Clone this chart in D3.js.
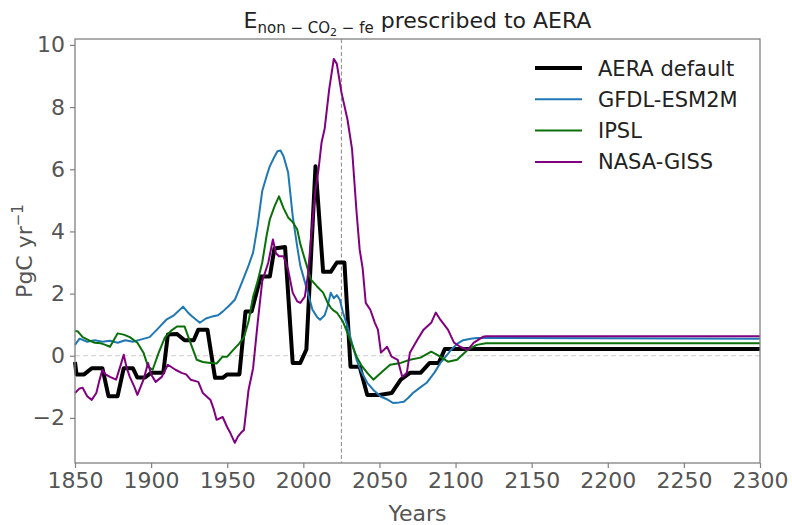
<!DOCTYPE html>
<html>
<head>
<meta charset="utf-8">
<script src="https://cdnjs.cloudflare.com/ajax/libs/d3/7.8.5/d3.min.js"></script>
<style>
  body { margin: 0; background: #fff; }
  text { font-family: "DejaVu Sans", sans-serif; }
</style>
</head>
<body>
<div id="chart"></div>
<script>
var margin = {top: 39, right: 32, bottom: 62, left: 75},
    width = 792 - margin.left - margin.right,
    height = 525 - margin.top - margin.bottom;

// values: [year, PgC/yr]
var aera = [[1850,-0.2],[1851,-0.6],[1856,-0.6],[1861,-0.4],[1868,-0.4],[1872,-1.3],[1878,-1.3],[1882,-0.4],[1888,-0.4],[1891,-0.7],[1896,-0.7],[1900,-0.55],[1908,-0.55],[1911,0.68],[1917,0.7],[1922,0.5],[1928,0.5],[1931,0.84],[1937,0.84],[1942,-0.71],[1947,-0.71],[1950,-0.6],[1958,-0.6],[1962,1.42],[1966,1.42],[1972,2.55],[1978,2.55],[1981,3.45],[1988,3.5],[1993,-0.23],[1998,-0.23],[2002,0.2],[2008,6.1],[2013,2.7],[2018,2.7],[2022,3.0],[2027,3.0],[2031,-0.35],[2037,-0.35],[2042,-1.26],[2050,-1.26],[2058,-1.2],[2064,-0.77],[2070,-0.55],[2077,-0.55],[2083,-0.23],[2089,-0.23],[2093,0.22],[2300,0.22]];

var gfdl = [[1850,0.35],[1853,0.55],[1858,0.45],[1863,0.5],[1868,0.45],[1873,0.48],[1878,0.42],[1883,0.5],[1888,0.45],[1893,0.52],[1899,0.6],[1904,0.85],[1910,1.16],[1915,1.3],[1921,1.58],[1924,1.4],[1927,1.26],[1932,1.06],[1936,1.2],[1940,1.26],[1944,1.3],[1947,1.42],[1951,1.6],[1955,1.8],[1960,2.4],[1964,2.9],[1967,3.32],[1970,4.2],[1973,5.3],[1976,5.8],[1978,6.1],[1981,6.4],[1983,6.58],[1985,6.6],[1987,6.42],[1990,5.9],[1993,4.5],[1996,3.5],[1998,2.9],[2002,2.2],[2006,1.48],[2009,1.25],[2011,1.16],[2014,1.3],[2016,1.6],[2018,2.03],[2020,1.85],[2022,1.95],[2024,1.8],[2026,1.4],[2029,0.94],[2032,0.4],[2035,-0.13],[2038,-0.5],[2042,-0.87],[2046,-1.1],[2051,-1.32],[2055,-1.4],[2059,-1.52],[2063,-1.5],[2066,-1.48],[2069,-1.35],[2072,-1.2],[2076,-1.05],[2081,-0.87],[2086,-0.55],[2090,-0.23],[2094,0.0],[2097,0.19],[2101,0.38],[2105,0.5],[2110,0.55],[2114,0.57],[2300,0.55]];

var ipsl = [[1850,0.8],[1852,0.78],[1855,0.6],[1859,0.5],[1863,0.42],[1867,0.4],[1870,0.35],[1873,0.29],[1876,0.55],[1878,0.72],[1882,0.68],[1886,0.6],[1891,0.42],[1895,0.1],[1898,-0.35],[1901,-0.45],[1905,0.1],[1909,0.58],[1913,0.8],[1917,0.94],[1922,0.94],[1926,0.4],[1930,-0.13],[1934,-0.2],[1939,-0.23],[1943,-0.25],[1947,-0.03],[1950,-0.03],[1954,0.19],[1958,0.4],[1961,0.6],[1964,1.1],[1967,1.9],[1970,2.4],[1973,3.0],[1976,3.9],[1978,4.39],[1981,4.8],[1984,5.13],[1987,4.75],[1990,4.45],[1993,4.3],[1996,4.06],[1998,3.6],[2001,3.1],[2005,2.45],[2009,2.23],[2013,2.03],[2016,1.7],[2018,1.55],[2020,1.45],[2022,1.39],[2026,1.1],[2029,0.74],[2032,0.35],[2035,-0.03],[2038,-0.3],[2042,-0.55],[2046,-0.77],[2051,-0.55],[2057,-0.29],[2064,-0.23],[2070,-0.13],[2077,-0.06],[2084,0.13],[2088,0.03],[2095,-0.19],[2101,-0.13],[2108,0.19],[2114,0.35],[2120,0.4],[2300,0.4]];

var nasa = [[1850,-1.2],[1853,-1.05],[1855,-1.03],[1858,-1.3],[1861,-1.42],[1864,-1.2],[1866,-0.8],[1868,-0.45],[1870,-0.6],[1873,-0.68],[1877,-0.77],[1880,-0.3],[1882,0.03],[1884,-0.4],[1886,-0.68],[1889,-1.0],[1891,-1.26],[1895,-0.77],[1898,-0.23],[1900,-0.6],[1903,-0.84],[1907,-0.68],[1911,-0.29],[1916,-0.45],[1920,-0.55],[1923,-0.6],[1926,-0.77],[1931,-0.84],[1934,-1.2],[1939,-1.42],[1941,-1.7],[1943,-2.06],[1947,-1.97],[1950,-2.3],[1952,-2.48],[1955,-2.8],[1957,-2.6],[1959,-2.48],[1961,-2.39],[1964,-1.1],[1967,-0.4],[1970,1.06],[1973,2.4],[1977,3.0],[1980,3.74],[1982,3.3],[1984,3.2],[1987,3.2],[1990,2.77],[1993,2.03],[1996,1.75],[1998,1.7],[2001,1.9],[2003,2.6],[2005,3.74],[2008,5.35],[2010,6.0],[2012,6.87],[2014,7.3],[2017,8.58],[2020,9.55],[2022,9.39],[2025,8.48],[2029,7.6],[2032,6.65],[2035,4.6],[2037,3.42],[2039,2.8],[2041,1.7],[2044,1.48],[2047,1.06],[2049,0.84],[2051,0.1],[2055,0.29],[2058,-0.03],[2062,-0.13],[2065,-0.68],[2068,-0.55],[2070,0.1],[2075,0.52],[2079,0.84],[2084,1.06],[2087,1.39],[2090,1.16],[2095,0.84],[2099,0.42],[2103,0.29],[2108,0.19],[2112,0.42],[2118,0.61],[2120,0.63],[2300,0.63]];

var seriesNames = ["AERA default", "GFDL-ESM2M", "IPSL", "NASA-GISS"];
var xTicks = [1850, 1900, 1950, 2000, 2050, 2100, 2150, 2200, 2250, 2300];
var yTicks = [-2, 0, 2, 4, 6, 8, 10];
var currentYear = 2025;

var series = [
    {name: seriesNames[0], data: aera, color: "#000000", lw: 4},
    {name: seriesNames[1], data: gfdl, color: "#1f77b4", lw: 2},
    {name: seriesNames[2], data: ipsl, color: "#0a700a", lw: 2},
    {name: seriesNames[3], data: nasa, color: "#800080", lw: 2}
];

var svg = d3.select("#chart")
    .append("svg")
        .attr("width", 792)
        .attr("height", 525)
    .append("g")
        .attr("transform", "translate(" + margin.left + "," + margin.top + ")");

var x = d3.scaleLinear().domain([1850, 2300]).range([0, width]);
var y = d3.scaleLinear().domain([-3.45, 10.19]).range([height, 0]);

// axes
var xAxis = svg.append("g")
    .attr("transform", "translate(0," + height + ")")
    .call(d3.axisBottom(x).tickValues(xTicks).tickFormat(d3.format("d")).tickSizeOuter(0).tickSize(5).tickPadding(4));
var yAxis = svg.append("g")
    .call(d3.axisLeft(y).tickValues(yTicks).tickSizeOuter(0).tickSize(5).tickPadding(5));

[xAxis, yAxis].forEach(function(a) {
    a.select(".domain").remove();
    a.selectAll("line").attr("stroke", "#808080").attr("stroke-width", 1.2);
    a.selectAll("text")
        .attr("fill", "#555")
        .style("font-size", "22px")
        .style("font-family", "DejaVu Sans");
});

// reference lines
svg.append("line")
    .attr("x1", 0).attr("x2", width)
    .attr("y1", y(0)).attr("y2", y(0))
    .attr("stroke", "#cccccc")
    .attr("stroke-width", 1)
    .attr("stroke-dasharray", "5,3");

svg.append("line")
    .attr("x1", x(currentYear)).attr("x2", x(currentYear))
    .attr("y1", 0).attr("y2", height)
    .attr("stroke", "#888")
    .attr("stroke-width", 1)
    .attr("stroke-dasharray", "4,2.5");

var line = d3.line()
    .x(function(d) { return x(d[0]); })
    .y(function(d) { return y(d[1]); });

svg.selectAll(".series")
    .data(series)
    .enter()
    .append("path")
        .attr("class", "series")
        .attr("d", function(d) { return line(d.data); })
        .attr("fill", "none")
        .attr("stroke", function(d) { return d.color; })
        .attr("stroke-width", function(d) { return d.lw; })
        .attr("stroke-linejoin", "round");

// frame
svg.append("rect")
    .attr("width", width)
    .attr("height", height)
    .attr("fill", "none")
    .attr("stroke", "#808080")
    .attr("stroke-width", 1.3);

// legend
var legend = svg.selectAll(".legend")
    .data(series)
    .enter()
    .append("g")
        .attr("class", "legend")
        .attr("transform", function(d, i) {
            return "translate(" + (535 - margin.left) + "," + (68 - margin.top + i * 31.3) + ")";
        });
legend.append("line")
    .attr("x1", 0).attr("x2", 47)
    .attr("stroke", function(d) { return d.color; })
    .attr("stroke-width", function(d) { return d.lw; });
legend.append("text")
    .attr("x", 63)
    .attr("dy", "0.36em")
    .style("font-size", "21px")
    .attr("fill", "#222")
    .text(function(d) { return d.name; });

// title
var title = svg.append("text")
    .attr("x", width / 2)
    .attr("y", -11)
    .attr("text-anchor", "middle")
    .style("font-size", "22px")
    .attr("fill", "#222");
title.append("tspan").text("E");
title.append("tspan").attr("dy", 5).style("font-size", "15px").text("non \u2212 CO");
title.append("tspan").attr("dy", 3).style("font-size", "11px").text("2");
title.append("tspan").attr("dy", -3).style("font-size", "15px").text(" \u2212 fe");
title.append("tspan").attr("dy", -5).text(" prescribed to AERA");

// axis labels
svg.append("text")
    .attr("x", width / 2)
    .attr("y", height + 58)
    .attr("text-anchor", "middle")
    .style("font-size", "22px")
    .attr("fill", "#555")
    .text("Years");

var ylab = svg.append("text")
    .attr("transform", "translate(" + (32 - margin.left) + "," + (height / 2) + ") rotate(-90)")
    .attr("text-anchor", "middle")
    .style("font-size", "22px")
    .attr("fill", "#555");
ylab.append("tspan").text("PgC yr");
ylab.append("tspan").attr("dy", -9).style("font-size", "15px").text("\u22121");
</script>
</body>
</html>
